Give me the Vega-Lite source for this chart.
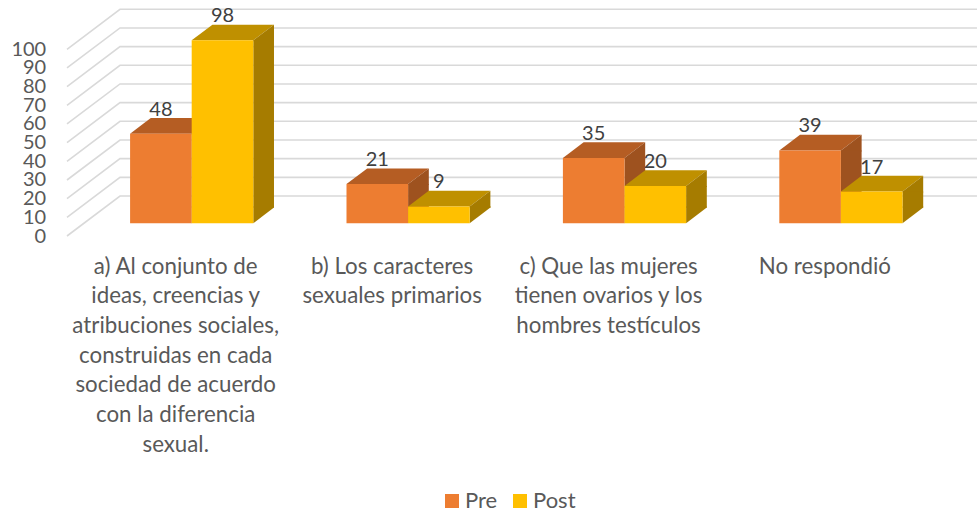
{"$schema":"https://vega.github.io/schema/vega-lite/v6.json","width":865.6,"height":236,"autosize":{"type":"none"},"padding":{"left":83.5,"top":0,"right":27.9,"bottom":276},"background":"white","config":{"view":{"stroke":null},"font":"Lato"},"data":{"values":[{"cat":"a) Al conjunto de\nideas, creencias y\natribuciones sociales,\nconstruidas en cada\nsociedad de acuerdo\ncon la diferencia\nsexual.","series":"Pre","value":48},{"cat":"a) Al conjunto de\nideas, creencias y\natribuciones sociales,\nconstruidas en cada\nsociedad de acuerdo\ncon la diferencia\nsexual.","series":"Post","value":98},{"cat":"b) Los caracteres\nsexuales primarios","series":"Pre","value":21},{"cat":"b) Los caracteres\nsexuales primarios","series":"Post","value":9},{"cat":"c) Que las mujeres\ntienen ovarios y los\nhombres testículos","series":"Pre","value":35},{"cat":"c) Que las mujeres\ntienen ovarios y los\nhombres testículos","series":"Post","value":20},{"cat":"No respondió","series":"Pre","value":39},{"cat":"No respondió","series":"Post","value":17}]},"encoding":{"x":{"field":"cat","type":"nominal","title":null,"scale":{"domain":["a) Al conjunto de\nideas, creencias y\natribuciones sociales,\nconstruidas en cada\nsociedad de acuerdo\ncon la diferencia\nsexual.","b) Los caracteres\nsexuales primarios","c) Que las mujeres\ntienen ovarios y los\nhombres testículos","No respondió"],"paddingInner":0.4307,"paddingOuter":0.2153},"axis":{"domain":false,"ticks":false,"grid":false,"labelAngle":0,"labelAlign":"center","labelBaseline":"top","labelOffset":-16,"labelPadding":19,"labelFontSize":22.3,"labelFont":"Lato","labelColor":"#595959","labelLimit":400,"labelLineHeight":29.7,"labelOverlap":false,"labelBound":false,"labelFlush":false,"labelExpr":"split(datum.label,'\\n')"}},"y":{"field":"value","type":"quantitative","title":null,"scale":{"domain":[0,126.4],"nice":false,"zero":false},"axis":{"domain":false,"ticks":false,"grid":false,"values":[0,10,20,30,40,50,60,70,80,90,100],"labelPadding":37.8,"labelFontSize":20,"labelFont":"Lato","labelColor":"#595959","labelOverlap":false,"labelBound":false,"labelFlush":false}}},"layer":[{"data":{"values":[{"tick":0},{"tick":10},{"tick":20},{"tick":30},{"tick":40},{"tick":50},{"tick":60},{"tick":70},{"tick":80},{"tick":90},{"tick":100}]},"mark":{"type":"point","shape":"M0,0L53,-40L910,-40","size":4,"filled":false,"fill":"transparent","stroke":"#D9D9D9","strokeWidth":1.6,"opacity":1,"xOffset":-124.7},"encoding":{"x":{"datum":"a) Al conjunto de\nideas, creencias y\natribuciones sociales,\nconstruidas en cada\nsociedad de acuerdo\ncon la diferencia\nsexual.","type":"nominal"},"y":{"field":"tick","type":"quantitative"}}},{"transform":[{"filter":"datum.series==='Pre'"}],"layer":[{"mark":{"type":"point","shape":"M-30.8,0L30.8,0L51.5,-15.7L-10.1,-15.7Z","size":4,"filled":true,"color":"#B55D23","opacity":1,"yOffset":-12.7},"encoding":{"xOffset":{"field":"series","type":"nominal","scale":{"domain":["Pre","Post"],"paddingInner":0,"paddingOuter":0}}}},{"mark":{"type":"point","shape":"M30.8,0L51.5,-15.7L51.5,1L30.8,1Z","size":4,"filled":true,"color":"#9E521F","opacity":1,"yOffset":-12.7},"encoding":{"xOffset":{"field":"series","type":"nominal"}}},{"mark":{"type":"rule","color":"#9E521F","strokeWidth":20.7,"xOffset":10.35,"yOffset":-12.7,"y2Offset":-28.4},"encoding":{"y2":{"datum":0}}},{"mark":{"type":"point","shape":"M30.8,0L30.8,-16.7L51.5,-16.7L51.5,-15.7Z","size":4,"filled":true,"color":"#9E521F","opacity":1,"yOffset":-12.7},"encoding":{"y":{"datum":0,"type":"quantitative"},"xOffset":{"field":"series","type":"nominal"}}},{"mark":{"type":"bar","yOffset":-12.7,"y2Offset":-12.7},"encoding":{"y":{"field":"value","type":"quantitative","stack":null},"y2":{"datum":0},"xOffset":{"field":"series","type":"nominal"},"color":{"field":"series","type":"nominal","scale":{"domain":["Pre","Post"],"range":["#ED7D31","#FFC000"]},"legend":{"title":null,"orient":"none","legendX":357.5,"legendY":490,"direction":"horizontal","symbolType":"square","symbolSize":196,"symbolStrokeWidth":0,"symbolOpacity":1,"labelFontSize":22,"labelFont":"Lato","labelColor":"#595959","columnPadding":11,"labelOffset":2,"padding":0}}}}]},{"transform":[{"filter":"datum.series==='Post'"}],"layer":[{"mark":{"type":"point","shape":"M-30.8,0L30.8,0L51.5,-15.7L-10.1,-15.7Z","size":4,"filled":true,"color":"#BF9000","opacity":1,"yOffset":-12.7},"encoding":{"xOffset":{"field":"series","type":"nominal"}}},{"mark":{"type":"point","shape":"M30.8,0L51.5,-15.7L51.5,1L30.8,1Z","size":4,"filled":true,"color":"#A67C00","opacity":1,"yOffset":-12.7},"encoding":{"xOffset":{"field":"series","type":"nominal"}}},{"mark":{"type":"rule","color":"#A67C00","strokeWidth":20.7,"xOffset":71.95,"yOffset":-12.7,"y2Offset":-28.4},"encoding":{"y2":{"datum":0}}},{"mark":{"type":"point","shape":"M30.8,0L30.8,-16.7L51.5,-16.7L51.5,-15.7Z","size":4,"filled":true,"color":"#A67C00","opacity":1,"yOffset":-12.7},"encoding":{"y":{"datum":0,"type":"quantitative"},"xOffset":{"field":"series","type":"nominal"}}},{"mark":{"type":"bar","yOffset":-12.7,"y2Offset":-12.7},"encoding":{"y":{"field":"value","type":"quantitative","stack":null},"y2":{"datum":0},"xOffset":{"field":"series","type":"nominal"},"color":{"field":"series","type":"nominal"}}}]},{"mark":{"type":"text","baseline":"alphabetic","align":"center","fontSize":20,"font":"Lato","color":"#404040","yOffset":-30.7},"encoding":{"text":{"field":"value","type":"quantitative"},"xOffset":{"field":"series","type":"nominal"}}}]}
